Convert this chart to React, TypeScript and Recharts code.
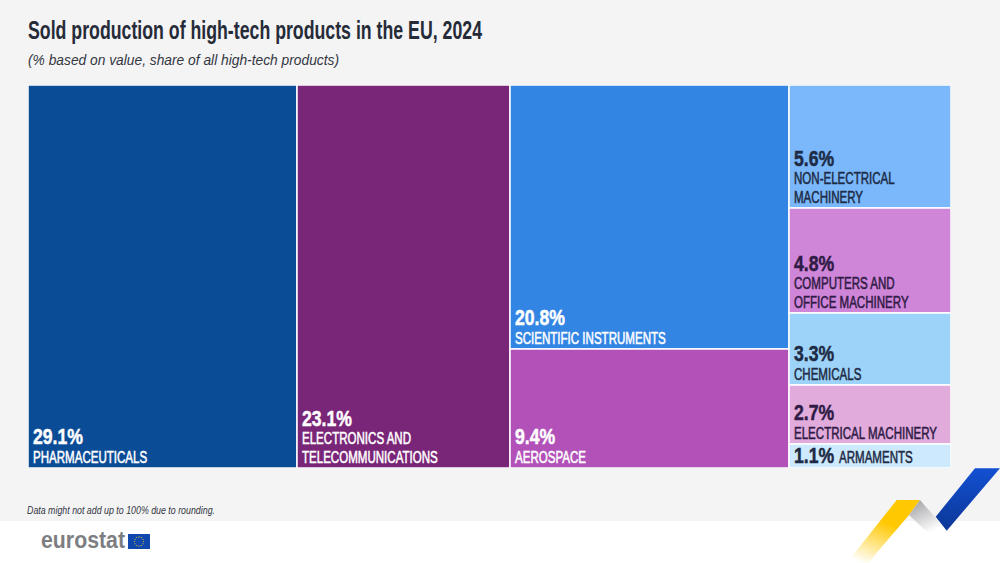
import React from 'react';
import { Treemap } from 'recharts';

const categories = [
  'PHARMACEUTICALS',
  'ELECTRONICS AND TELECOMMUNICATIONS',
  'SCIENTIFIC INSTRUMENTS',
  'AEROSPACE',
  'NON-ELECTRICAL MACHINERY',
  'COMPUTERS AND OFFICE MACHINERY',
  'CHEMICALS',
  'ELECTRICAL MACHINERY',
  'ARMAMENTS',
];
const values = [29.1, 23.1, 20.8, 9.4, 5.6, 4.8, 3.3, 2.7, 1.1];
const labelLines = [
  ['PHARMACEUTICALS'],
  ['ELECTRONICS AND', 'TELECOMMUNICATIONS'],
  ['SCIENTIFIC INSTRUMENTS'],
  ['AEROSPACE'],
  ['NON-ELECTRICAL', 'MACHINERY'],
  ['COMPUTERS AND', 'OFFICE MACHINERY'],
  ['CHEMICALS'],
  ['ELECTRICAL MACHINERY'],
  ['ARMAMENTS'],
];
const fills = ['#0b4c97', '#7a2678', '#3385e4', '#b252b9', '#7ab8fb', '#cf85d8', '#9dd3f8', '#e1abdc', '#cde9fd'];
const inks = ['#ffffff', '#ffffff', '#ffffff', '#ffffff', '#1d2b45', '#2f1b45', '#1d2b45', '#2f1b45', '#1d2b45'];

const FONT = '"Liberation Sans", sans-serif';

const leaf = (i: number) => ({ name: categories[i], size: values[i], index2: i });

// nesting keeps the columns and bands in the same order as the original squarified layout
const treeData = [
  leaf(0),
  {
    name: 'rest',
    children: [
      leaf(1),
      {
        name: 'right',
        children: [
          { name: 'middle', children: [leaf(2), leaf(3)] },
          {
            name: 'small',
            children: [
              {
                name: 'upper',
                children: [
                  { name: 'machinery', children: [leaf(4), leaf(5)] },
                  { name: 'chem', children: [leaf(6), leaf(7)] },
                ],
              },
              leaf(8),
            ],
          },
        ],
      },
    ],
  },
];

const LabelledCell = (props: any) => {
  const { x, y, width, height, index2, children } = props;
  if (children || index2 === undefined) return null;
  const ink = inks[index2];
  const lines = labelLines[index2];
  const left = x + 5;
  const bottom = y + height - 5.5;
  const pct = `${values[index2].toFixed(1)}%`;
  const pctText = (ty: number) => (
    <g transform={`translate(${left},${ty}) scale(0.8,1)`}>
      <text fontFamily={FONT} fontSize={22} fontWeight={700} fill={ink} stroke={ink} strokeWidth={0.5}>{pct}</text>
    </g>
  );
  const labelText = (tx: number, ty: number, line: string) => (
    <g key={line} transform={`translate(${tx},${ty}) scale(0.7,1)`}>
      <text fontFamily={FONT} fontSize={16.5} fill={ink} stroke={ink} strokeWidth={0.55}>{line}</text>
    </g>
  );
  return (
    <g>
      <rect x={x} y={y} width={width} height={height} fill={fills[index2]} stroke="#ffffff" strokeWidth={1.5} />
      {height < 30 ? (
        <>
          {pctText(bottom)}
          {labelText(left + 45, bottom, lines[0])}
        </>
      ) : (
        <>
          {pctText(bottom - lines.length * 18.5)}
          {lines.map((line: string, i: number) => labelText(left, bottom - (lines.length - 1 - i) * 18.5, line))}
        </>
      )}
    </g>
  );
};

const starAngles = [0, 30, 60, 90, 120, 150, 180, 210, 240, 270, 300, 330];

export default function App() {
  return (
    <div style={{ position: 'absolute', left: 0, top: 0, width: 1000, height: 563, background: '#ffffff', overflow: 'hidden' }}>
      <div style={{ position: 'absolute', left: 0, top: 0, width: 1000, height: 521, background: '#f4f4f5' }} />
      <svg width={1000} height={563} style={{ position: 'absolute', left: 0, top: 0 }}>
        <defs>
          <linearGradient id="blueRibbon" x1="0" y1="0" x2="0" y2="1">
            <stop offset="0%" stopColor="#1250d2" />
            <stop offset="100%" stopColor="#0c3796" />
          </linearGradient>
          <linearGradient id="greyRibbon" x1="0" y1="0" x2="0.6" y2="1">
            <stop offset="0%" stopColor="#9c9ca0" />
            <stop offset="100%" stopColor="#ffffff" />
          </linearGradient>
          <linearGradient id="yellowRibbon" x1="0.7" y1="0" x2="0.2" y2="1">
            <stop offset="35%" stopColor="#ffc800" />
            <stop offset="100%" stopColor="#ffffff" />
          </linearGradient>
        </defs>
        <text x={28} y={39} fontFamily={FONT} fontSize={25} fontWeight={700} fill="#262b38" textLength={454} lengthAdjust="spacingAndGlyphs">
          Sold production of high-tech products in the EU, 2024
        </text>
        <text x={28} y={65} fontFamily={FONT} fontSize={15} fontStyle="italic" fill="#33363f" textLength={311} lengthAdjust="spacingAndGlyphs">
          (% based on value, share of all high-tech products)
        </text>
        <text x={27} y={514} fontFamily={FONT} fontSize={11.5} fontStyle="italic" fill="#33363f" textLength={188} lengthAdjust="spacingAndGlyphs">
          Data might not add up to 100% due to rounding.
        </text>
        <polygon points="846.7,563 868,563 909,515 920,500 896.7,500" fill="url(#yellowRibbon)" />
        <polygon points="920,500 946.7,530.7 926.7,531.7 909,515" fill="url(#greyRibbon)" />
        <polygon points="975,468.3 1000,468.3 946.7,530.7 935.7,516.7" fill="url(#blueRibbon)" />
        <text x={41} y={548} fontFamily={FONT} fontSize={23} fontWeight={700} fill="#7d7e82" textLength={84} lengthAdjust="spacingAndGlyphs">
          eurostat
        </text>
        <rect x={128} y={534} width={22} height={15} fill="#0f47af" />
        {starAngles.map((a) => (
          <circle
            key={a}
            cx={139 + 4.6 * Math.cos((a * Math.PI) / 180)}
            cy={541.5 + 4.6 * Math.sin((a * Math.PI) / 180)}
            r={0.55}
            fill="#ffd617"
          />
        ))}
      </svg>
      <div style={{ position: 'absolute', left: 28.25, top: 84.75 }}>
        <Treemap
          width={923}
          height={383}
          data={treeData}
          dataKey="size"
          aspectRatio={1.4}
          type="flat"
          isAnimationActive={false}
          content={<LabelledCell />}
        />
      </div>
    </div>
  );
}
